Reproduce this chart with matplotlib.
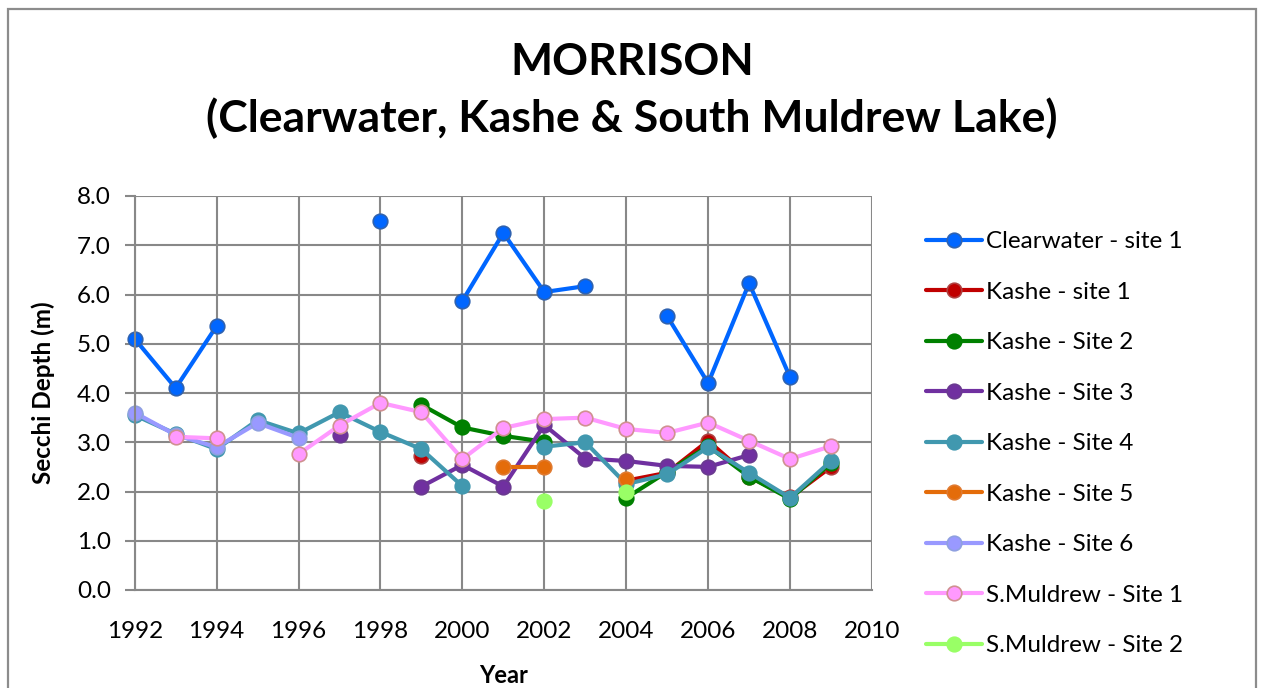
import numpy as np
import matplotlib
matplotlib.use("Agg")
import matplotlib.pyplot as plt
from matplotlib.patches import Rectangle

nan = np.nan

# years 1992..2009
years = list(range(1992, 2010))

clearwater_1 = [5.10, 4.10, 5.36, nan, nan, nan, 7.49, nan, 5.87, 7.25, 6.05, 6.17, nan, 5.56, 4.20, 6.23, 4.32, nan]
kashe_1 = [nan, nan, nan, nan, nan, nan, nan, 2.72, nan, nan, nan, nan, 2.22, 2.38, 3.03, 2.30, 1.88, 2.50]
kashe_2 = [nan, nan, nan, nan, nan, nan, nan, 3.76, 3.30, 3.13, 3.01, nan, 1.87, 2.40, 2.92, 2.30, 1.85, 2.58]
kashe_3 = [nan, nan, nan, nan, nan, 3.15, nan, 2.10, 2.54, 2.10, 3.35, 2.67, 2.62, 2.52, 2.50, 2.74, nan, nan]
kashe_4 = [3.55, 3.17, 2.86, 3.45, 3.18, 3.61, 3.21, 2.86, 2.11, nan, 2.91, 3.00, 2.15, 2.35, 2.90, 2.38, 1.87, 2.62]
kashe_5 = [nan, nan, nan, nan, nan, nan, nan, nan, nan, 2.50, 2.50, nan, 2.25, nan, nan, nan, nan, nan]
kashe_6 = [3.60, 3.15, 2.90, 3.39, 3.09, nan, nan, nan, nan, nan, nan, nan, nan, nan, nan, nan, nan, nan]
muldrew_1 = [nan, 3.11, 3.08, nan, 2.76, 3.34, 3.80, 3.61, 2.66, 3.29, 3.47, 3.50, 3.27, 3.19, 3.40, 3.03, 2.66, 2.92]
muldrew_2 = [nan, nan, nan, nan, nan, nan, nan, nan, nan, nan, 1.80, nan, 2.00, nan, nan, nan, nan, nan]

labels = ["Clearwater - site 1", "Kashe - site 1", "Kashe - Site 2", "Kashe - Site 3",
          "Kashe - Site 4", "Kashe - Site 5", "Kashe - Site 6",
          "S.Muldrew - Site 1", "S.Muldrew - Site 2"]
series = [clearwater_1, kashe_1, kashe_2, kashe_3, kashe_4, kashe_5, kashe_6, muldrew_1, muldrew_2]
colors = ["#0066ff", "#c00000", "#008000", "#7030a0", "#4198af", "#e46c0a", "#9999ff", "#ff99ff", "#99ff66"]
edges = ["#2f62b0", "#b04040", "#008000", "#6a3a90", "#4198af", "#e07a30", "#8fa0e0", "#d09090", "#99ff66"]

plt.rcParams['font.family'] = ['Lato', 'DejaVu Sans']

fig = plt.figure(figsize=(12.63, 6.88), dpi=100)
ax = fig.add_axes([134.7 / 1263, 1 - 590 / 688, (872 - 134.7) / 1263, (590 - 196) / 688])

for vals, lab, c, ec in zip(series, labels, colors, edges):
    ax.plot(years, vals, color=c, lw=3, marker='o', ms=10.5,
            markerfacecolor=c, markeredgecolor=ec, markeredgewidth=1.2,
            label=lab, solid_capstyle='round', clip_on=False)

ax.set_xlim(1992, 2010)
ax.set_ylim(0, 8)
ax.set_xticks(range(1992, 2011, 2))
ax.set_yticks(np.arange(0, 8.1, 1.0))
ax.set_yticklabels([f"{v:.1f}" for v in np.arange(0, 8.1, 1.0)])
ax.grid(True, color="#888888", lw=1.5)
ax.set_axisbelow(True)
for s in ["top", "right"]:
    ax.spines[s].set_visible(False)
ax.spines["left"].set_color("#888888")
ax.spines["bottom"].set_color("#888888")
ax.spines["left"].set_linewidth(1.5)
ax.spines["bottom"].set_linewidth(1.5)
ax.tick_params(axis='y', length=7, width=1.5, color="#888888", labelsize=17.5, pad=10)
ax.tick_params(axis='x', length=0, labelsize=17.5, pad=22)

ax.set_xlabel("Year", fontsize=17, fontweight='bold', labelpad=16)
ax.set_ylabel("Secchi Depth (m)", fontsize=17.5, fontweight='bold', labelpad=16)

fig.text(632 / 1263, 1 - 62 / 688, "MORRISON", ha='center', va='center', fontsize=32, fontweight='bold')
fig.text(632 / 1263, 1 - 118 / 688, "(Clearwater, Kashe & South Muldrew Lake)", ha='center', va='center',
         fontsize=32, fontweight='bold')

fig.legend(loc='upper left', bbox_to_anchor=(926 / 1263, 1 - 231 / 688), frameon=False,
           fontsize=17.5, handlelength=2.3, handletextpad=0.15, labelspacing=1.215,
           borderpad=0, borderaxespad=0)

fig.patches.append(Rectangle((8 / 1263, -0.05), (1256 - 8) / 1263, 1.05 - 9 / 688,
                             transform=fig.transFigure, fill=False, edgecolor="#8c8c8c", lw=1.6))

fig.savefig("out.png", dpi=100)
